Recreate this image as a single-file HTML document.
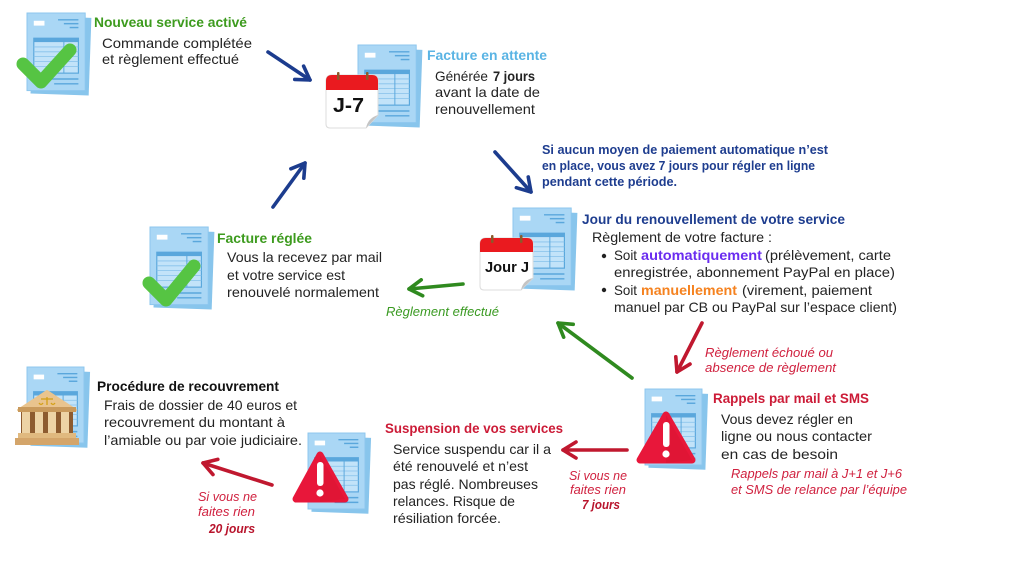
<!DOCTYPE html>
<html><head><meta charset="utf-8"><style>
html,body{margin:0;padding:0;background:#fff;}
svg{display:block;}
text{font-family:"Liberation Sans",sans-serif;}
.b{font-size:14px;fill:#232323;}
.t{font-size:14px;font-weight:bold;}
.i{font-size:12.5px;font-style:italic;}
</style></head><body>
<svg width="1024" height="576" viewBox="0 0 1024 576" xmlns="http://www.w3.org/2000/svg">
<defs>
<g id="doc">
 <rect x="5" y="4" width="60" height="80" fill="#88c5ec" transform="rotate(2 35 44)"/>
 <rect x="0" y="0" width="60" height="80" fill="#aad7f5" stroke="#8cc6ee" stroke-width="1"/>
 <rect x="7" y="8" width="11" height="5" fill="#fff"/>
 <line x1="32" y1="7" x2="53" y2="7" stroke="#5aa7dc" stroke-width="1.5"/>
 <line x1="38" y1="11" x2="53" y2="11" stroke="#5aa7dc" stroke-width="1.5"/>
 <line x1="44" y1="15" x2="53" y2="15" stroke="#5aa7dc" stroke-width="1.5"/>
 <rect x="7" y="26" width="46" height="36" fill="#c2e3f9" stroke="#5aa7dc" stroke-width="1.2"/>
 <rect x="7" y="26" width="46" height="4" fill="#5aa7dc"/>
 <g stroke="#86c1ea" stroke-width="0.8">
  <line x1="7" y1="35" x2="53" y2="35"/><line x1="7" y1="40" x2="53" y2="40"/>
  <line x1="7" y1="45" x2="53" y2="45"/><line x1="7" y1="50" x2="53" y2="50"/>
  <line x1="7" y1="55" x2="53" y2="55"/>
 </g>
 <line x1="38" y1="26" x2="38" y2="62" stroke="#5aa7dc" stroke-width="1"/>
 <line x1="7" y1="68" x2="53" y2="68" stroke="#5aa7dc" stroke-width="1.5"/>
 <line x1="28" y1="73" x2="53" y2="73" stroke="#5aa7dc" stroke-width="1.5"/>
</g>
<marker id="an" viewBox="0 0 20 20" refX="17" refY="10" markerWidth="20" markerHeight="20" markerUnits="userSpaceOnUse" orient="auto">
 <path d="M4,2 L17,10 L4,18" fill="none" stroke="#1c3c8e" stroke-width="3.6" stroke-linecap="round" stroke-linejoin="round"/>
</marker>
<marker id="ag" viewBox="0 0 20 20" refX="17" refY="10" markerWidth="20" markerHeight="20" markerUnits="userSpaceOnUse" orient="auto">
 <path d="M4,2 L17,10 L4,18" fill="none" stroke="#2f8a1f" stroke-width="3.6" stroke-linecap="round" stroke-linejoin="round"/>
</marker>
<marker id="ar" viewBox="0 0 20 20" refX="17" refY="10" markerWidth="20" markerHeight="20" markerUnits="userSpaceOnUse" orient="auto">
 <path d="M4,2 L17,10 L4,18" fill="none" stroke="#c0182f" stroke-width="3.6" stroke-linecap="round" stroke-linejoin="round"/>
</marker>
</defs>

<!-- Documents -->
<use href="#doc" transform="translate(27,13) scale(0.97)"/>
<use href="#doc" transform="translate(358,45) scale(0.97)"/>
<use href="#doc" transform="translate(513,208) scale(0.97)"/>
<use href="#doc" transform="translate(150,227) scale(0.97)"/>
<use href="#doc" transform="translate(645,389) scale(0.95)"/>
<use href="#doc" transform="translate(308,433) scale(0.95)"/>
<use href="#doc" transform="translate(27,367) scale(0.95)"/>

<!-- Check marks -->
<polyline points="23,64 41,82 70,50" fill="none" stroke="#56c443" stroke-width="13" stroke-linecap="round" stroke-linejoin="round"/>
<polyline points="149,283 166,300 194,266" fill="none" stroke="#56c443" stroke-width="13" stroke-linecap="round" stroke-linejoin="round"/>

<!-- Calendar J-7 -->
<g transform="translate(326,75)">
 <path d="M0,6 Q0,0 6,0 L46,0 Q52,0 52,6 L52,40 L40,53 L4,53 Q0,53 0,49 Z" fill="#fff" stroke="#dcdcdc" stroke-width="1"/>
 <path d="M0,15 L0,6 Q0,0 6,0 L46,0 Q52,0 52,6 L52,15 Z" fill="#ea1a1f"/>
 <path d="M52,40 L40,53 Q42,43 52,40 Z" fill="#c4c4c4"/>
 <rect x="11" y="-3" width="2.5" height="8" rx="1" fill="#8b5a2b"/>
 <rect x="40" y="-3" width="2.5" height="8" rx="1" fill="#8b5a2b"/>
</g>
<text x="333" y="112" font-size="20" font-weight="bold" fill="#111" textLength="31" lengthAdjust="spacingAndGlyphs">J-7</text>

<!-- Calendar Jour J -->
<g transform="translate(480,238)">
 <path d="M0,6 Q0,0 6,0 L47,0 Q53,0 53,6 L53,40 L41,52 L4,52 Q0,52 0,48 Z" fill="#fff" stroke="#dcdcdc" stroke-width="1"/>
 <path d="M0,14 L0,6 Q0,0 6,0 L47,0 Q53,0 53,6 L53,14 Z" fill="#ea1a1f"/>
 <path d="M53,40 L41,52 Q43,42 53,40 Z" fill="#c4c4c4"/>
 <rect x="11" y="-3" width="2.5" height="8" rx="1" fill="#8b5a2b"/>
 <rect x="40" y="-3" width="2.5" height="8" rx="1" fill="#8b5a2b"/>
</g>
<text x="485" y="272" font-size="15" font-weight="bold" fill="#111" textLength="44" lengthAdjust="spacingAndGlyphs">Jour J</text>

<!-- Warning triangles -->
<polygon points="666,415 640,460 692,460" fill="#e8173a" stroke="#e8173a" stroke-width="7" stroke-linejoin="round"/>
<polygon points="666,415 692,460 666,463" fill="#d0112f" opacity="0.35"/>
<rect x="663" y="422" width="6.5" height="25" rx="3" fill="#fff"/>
<circle cx="666" cy="454" r="3.6" fill="#fff"/>
<polygon points="320,455 296,499 345,499" fill="#e8173a" stroke="#e8173a" stroke-width="7" stroke-linejoin="round"/>
<polygon points="320,455 345,499 320,502" fill="#d0112f" opacity="0.35"/>
<rect x="317" y="462" width="6.5" height="24" rx="3" fill="#fff"/>
<circle cx="320" cy="493" r="3.6" fill="#fff"/>

<!-- Bank -->
<g>
 <polygon points="18,410 47,391 76,410" fill="#e9c48e" stroke="#e9c48e" stroke-width="2" stroke-linejoin="round"/>
 <rect x="18" y="407" width="58" height="5" fill="#c99a5c"/>
 <g stroke="#d4a017" stroke-width="1.3" fill="none">
  <line x1="47" y1="397" x2="47" y2="405"/><line x1="41" y1="399" x2="53" y2="399"/>
  <path d="M39,403 Q41,406 43,403"/><path d="M51,403 Q53,406 55,403"/>
 </g>
 <rect x="21" y="412" width="52" height="21" fill="#8d5b2f"/>
 <rect x="22" y="412" width="8" height="21" fill="#edd3a5"/>
 <rect x="35" y="412" width="8" height="21" fill="#edd3a5"/>
 <rect x="48" y="412" width="8" height="21" fill="#edd3a5"/>
 <rect x="61" y="412" width="8" height="21" fill="#edd3a5"/>
 <rect x="18" y="433" width="58" height="5" fill="#e0b97f"/>
 <rect x="15" y="438" width="64" height="7" fill="#d4a56a"/>
</g>

<!-- Arrows -->
<g stroke-width="3.6" stroke-linecap="round" fill="none">
 <line x1="268" y1="52" x2="310" y2="80" stroke="#1c3c8e" marker-end="url(#an)"/>
 <line x1="273" y1="207" x2="305" y2="163" stroke="#1c3c8e" marker-end="url(#an)"/>
 <line x1="495" y1="152" x2="531" y2="192" stroke="#1c3c8e" marker-end="url(#an)"/>
 <line x1="463" y1="284" x2="409" y2="289" stroke="#2f8a1f" marker-end="url(#ag)"/>
 <line x1="632" y1="378" x2="558" y2="323" stroke="#2f8a1f" marker-end="url(#ag)"/>
 <line x1="702" y1="323" x2="677" y2="372" stroke="#c0182f" marker-end="url(#ar)"/>
 <line x1="627" y1="450" x2="563" y2="450" stroke="#c0182f" marker-end="url(#ar)"/>
 <line x1="272" y1="485" x2="203" y2="463" stroke="#c0182f" marker-end="url(#ar)"/>
</g>

<!-- Texts -->
<text class="t" x="94" y="27" fill="#3d9b1e" textLength="153" lengthAdjust="spacingAndGlyphs">Nouveau service activé</text>
<text class="b" x="102" y="48" textLength="150" lengthAdjust="spacingAndGlyphs">Commande complétée</text>
<text class="b" x="102" y="64" textLength="137" lengthAdjust="spacingAndGlyphs">et règlement effectué</text>

<text class="t" x="427" y="60" fill="#5ab4e4" textLength="120" lengthAdjust="spacingAndGlyphs">Facture en attente</text>
<text class="b" x="435" y="81" textLength="53" lengthAdjust="spacingAndGlyphs">Générée</text>
<text class="b" x="493" y="81" font-weight="bold" fill="#111" textLength="42" lengthAdjust="spacingAndGlyphs">7 jours</text>
<text class="b" x="435" y="97" textLength="105" lengthAdjust="spacingAndGlyphs">avant la date de</text>
<text class="b" x="435" y="114" textLength="100" lengthAdjust="spacingAndGlyphs">renouvellement</text>

<g font-size="12.5" font-weight="bold" fill="#1e3d8f">
<text x="542" y="154" textLength="286" lengthAdjust="spacingAndGlyphs">Si aucun moyen de paiement automatique n’est</text>
<text x="542" y="170" textLength="273" lengthAdjust="spacingAndGlyphs">en place, vous avez 7 jours pour régler en ligne</text>
<text x="542" y="186" textLength="135" lengthAdjust="spacingAndGlyphs">pendant cette période.</text>
</g>

<text class="t" x="582" y="224" fill="#1e3d8f" textLength="263" lengthAdjust="spacingAndGlyphs">Jour du renouvellement de votre service</text>
<text class="b" x="592" y="242" textLength="180" lengthAdjust="spacingAndGlyphs">Règlement de votre facture :</text>
<circle cx="604" cy="256" r="2.2" fill="#222"/>
<circle cx="604" cy="290" r="2.2" fill="#222"/>
<text class="b" x="614" y="260" textLength="23" lengthAdjust="spacingAndGlyphs">Soit</text>
<text class="b" x="641" y="260" font-weight="bold" style="fill:#6a2cf0" textLength="121" lengthAdjust="spacingAndGlyphs">automatiquement</text>
<text class="b" x="765" y="260" textLength="126" lengthAdjust="spacingAndGlyphs">(prélèvement, carte</text>
<text class="b" x="614" y="277" textLength="281" lengthAdjust="spacingAndGlyphs">enregistrée, abonnement PayPal en place)</text>
<text class="b" x="614" y="295" textLength="23" lengthAdjust="spacingAndGlyphs">Soit</text>
<text class="b" x="641" y="295" font-weight="bold" style="fill:#f5821f" textLength="96" lengthAdjust="spacingAndGlyphs">manuellement</text>
<text class="b" x="742" y="295" textLength="130" lengthAdjust="spacingAndGlyphs">(virement, paiement</text>
<text class="b" x="614" y="312" textLength="283" lengthAdjust="spacingAndGlyphs">manuel par CB ou PayPal sur l’espace client)</text>

<text class="t" x="217" y="243" fill="#3d9b1e" textLength="95" lengthAdjust="spacingAndGlyphs">Facture réglée</text>
<text class="b" x="227" y="262" textLength="155" lengthAdjust="spacingAndGlyphs">Vous la recevez par mail</text>
<text class="b" x="227" y="280" textLength="118" lengthAdjust="spacingAndGlyphs">et votre service est</text>
<text class="b" x="227" y="297" textLength="152" lengthAdjust="spacingAndGlyphs">renouvelé normalement</text>
<text class="i" x="386" y="316" fill="#3a9a22" textLength="113" lengthAdjust="spacingAndGlyphs">Règlement effectué</text>

<text class="i" x="705" y="357" fill="#d0213f" textLength="128" lengthAdjust="spacingAndGlyphs">Règlement échoué ou</text>
<text class="i" x="705" y="372" fill="#d0213f" textLength="131" lengthAdjust="spacingAndGlyphs">absence de règlement</text>

<text class="t" x="713" y="403" fill="#cc1b37" textLength="156" lengthAdjust="spacingAndGlyphs">Rappels par mail et SMS</text>
<text class="b" x="721" y="424" textLength="132" lengthAdjust="spacingAndGlyphs">Vous devez régler en</text>
<text class="b" x="721" y="441" textLength="151" lengthAdjust="spacingAndGlyphs">ligne ou nous contacter</text>
<text class="b" x="721" y="459" textLength="117" lengthAdjust="spacingAndGlyphs">en cas de besoin</text>
<text class="i" x="731" y="478" fill="#d0213f" textLength="171" lengthAdjust="spacingAndGlyphs">Rappels par mail à J+1 et J+6</text>
<text class="i" x="731" y="494" fill="#d0213f" textLength="176" lengthAdjust="spacingAndGlyphs">et SMS de relance par l’équipe</text>

<text class="i" x="569" y="480" fill="#d0213f" textLength="58" lengthAdjust="spacingAndGlyphs">Si vous ne</text>
<text class="i" x="570" y="494" fill="#d0213f" textLength="56" lengthAdjust="spacingAndGlyphs">faites rien</text>
<text class="i" x="582" y="509" fill="#b8142c" font-weight="bold" textLength="38" lengthAdjust="spacingAndGlyphs">7 jours</text>

<text class="t" x="385" y="433" fill="#cc1b37" textLength="178" lengthAdjust="spacingAndGlyphs">Suspension de vos services</text>
<text class="b" x="393" y="454" textLength="158" lengthAdjust="spacingAndGlyphs">Service suspendu car il a</text>
<text class="b" x="393" y="471" textLength="135" lengthAdjust="spacingAndGlyphs">été renouvelé et n’est</text>
<text class="b" x="393" y="489" textLength="145" lengthAdjust="spacingAndGlyphs">pas réglé. Nombreuses</text>
<text class="b" x="393" y="506" textLength="122" lengthAdjust="spacingAndGlyphs">relances. Risque de</text>
<text class="b" x="393" y="523" textLength="108" lengthAdjust="spacingAndGlyphs">résiliation forcée.</text>

<text class="t" x="97" y="391" fill="#111" textLength="182" lengthAdjust="spacingAndGlyphs">Procédure de recouvrement</text>
<text class="b" x="104" y="410" textLength="193" lengthAdjust="spacingAndGlyphs">Frais de dossier de 40 euros et</text>
<text class="b" x="104" y="427" textLength="181" lengthAdjust="spacingAndGlyphs">recouvrement du montant à</text>
<text class="b" x="104" y="445" textLength="198" lengthAdjust="spacingAndGlyphs">l’amiable ou par voie judiciaire.</text>

<text class="i" x="198" y="501" fill="#d0213f" textLength="59" lengthAdjust="spacingAndGlyphs">Si vous ne</text>
<text class="i" x="198" y="516" fill="#d0213f" textLength="57" lengthAdjust="spacingAndGlyphs">faites rien</text>
<text class="i" x="209" y="533" fill="#b8142c" font-weight="bold" textLength="46" lengthAdjust="spacingAndGlyphs">20 jours</text>
</svg>
</body></html>
